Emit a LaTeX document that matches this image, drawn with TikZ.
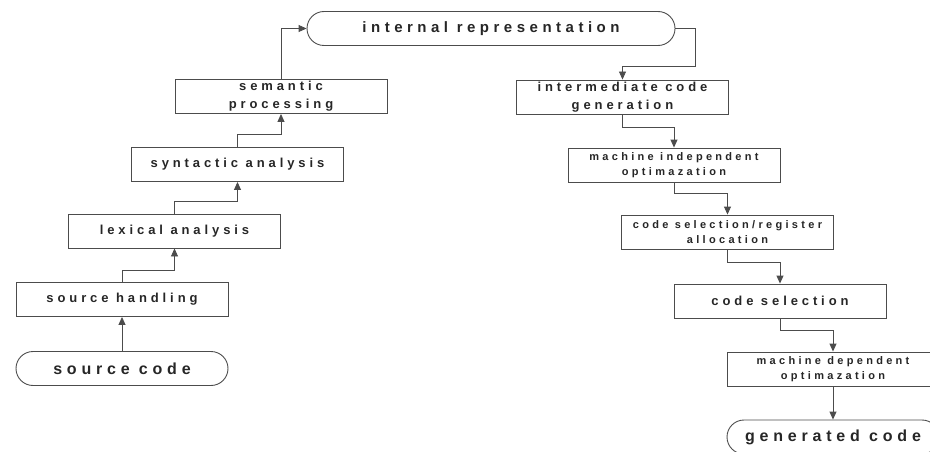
\documentclass[tikz,border=0pt]{standalone}
\usepackage{fontspec}
\setmainfont{Liberation Sans}
\newfontfamily\flowfont[LetterSpace=30]{Liberation Sans}
\usetikzlibrary{arrows.meta}

\begin{document}
\begin{tikzpicture}[x=1pt,y=-1pt,
    stage/.style={draw=black!70, line width=0.9pt, minimum width=212pt, minimum height=34pt,
        inner sep=1pt, align=center, text=black!85, font=\fontsize{13}{18}\selectfont\flowfont\bfseries},
    small stage/.style={stage, font=\fontsize{11}{14.5}\selectfont\flowfont\bfseries},
    terminal/.style={stage, rounded corners=17pt, font=\fontsize{16}{18}\selectfont\flowfont\bfseries},
    flow/.style={draw=black!70, line width=0.9pt, -{Triangle[length=8pt,width=7pt]}}]
    \useasboundingbox (0,0) rectangle (930,452);
    \node[terminal, minimum width=368pt, font=\fontsize{15}{16}\selectfont\flowfont\bfseries] (ir) at (491,28.5) {internal representation};
    \node[stage] (sem) at (281,96.5) {semantic\\processing};
    \node[stage] (syn) at (237.5,164.5) {syntactic analysis};
    \node[stage] (lex) at (174.5,231) {lexical analysis};
    \node[stage] (hand) at (122,299.5) {source handling};
    \node[terminal] (src) at (122,368.5) {source code};
    \node[stage] (icg) at (622.5,97) {intermediate code\\generation};
    \node[small stage] (mio) at (674,165) {machine independent\\optimazation};
    \node[small stage] (csr) at (727.5,232) {code selection/register\\allocation};
    \node[stage] (cs) at (780,301) {code selection};
    \node[small stage] (mdo) at (833,369) {machine dependent\\optimazation};
    \node[terminal] (gen) at (833,437) {generated code};
    \draw[flow] (src.north) -- (hand.south);
    \draw[flow] (hand.north) -- ++(0,-12) -| (lex.south);
    \draw[flow] (lex.north) -- ++(0,-12) -| (syn.south);
    \draw[flow] (syn.north) -- ++(0,-13) -| (sem.south);
    \draw[flow] (sem.north) |- (ir.west);
    \draw[flow] (ir.east) -- ++(20,0) -- ++(0,38) -| (icg.north);
    \draw[flow] (icg.south) -- ++(0,13) -| (mio.north);
    \draw[flow] (mio.south) -- ++(0,11) -| (csr.north);
    \draw[flow] (csr.south) -- ++(0,13) -| (cs.north);
    \draw[flow] (cs.south) -- ++(0,12) -| (mdo.north);
    \draw[flow] (mdo.south) -- (gen.north);
\end{tikzpicture}
\end{document}
